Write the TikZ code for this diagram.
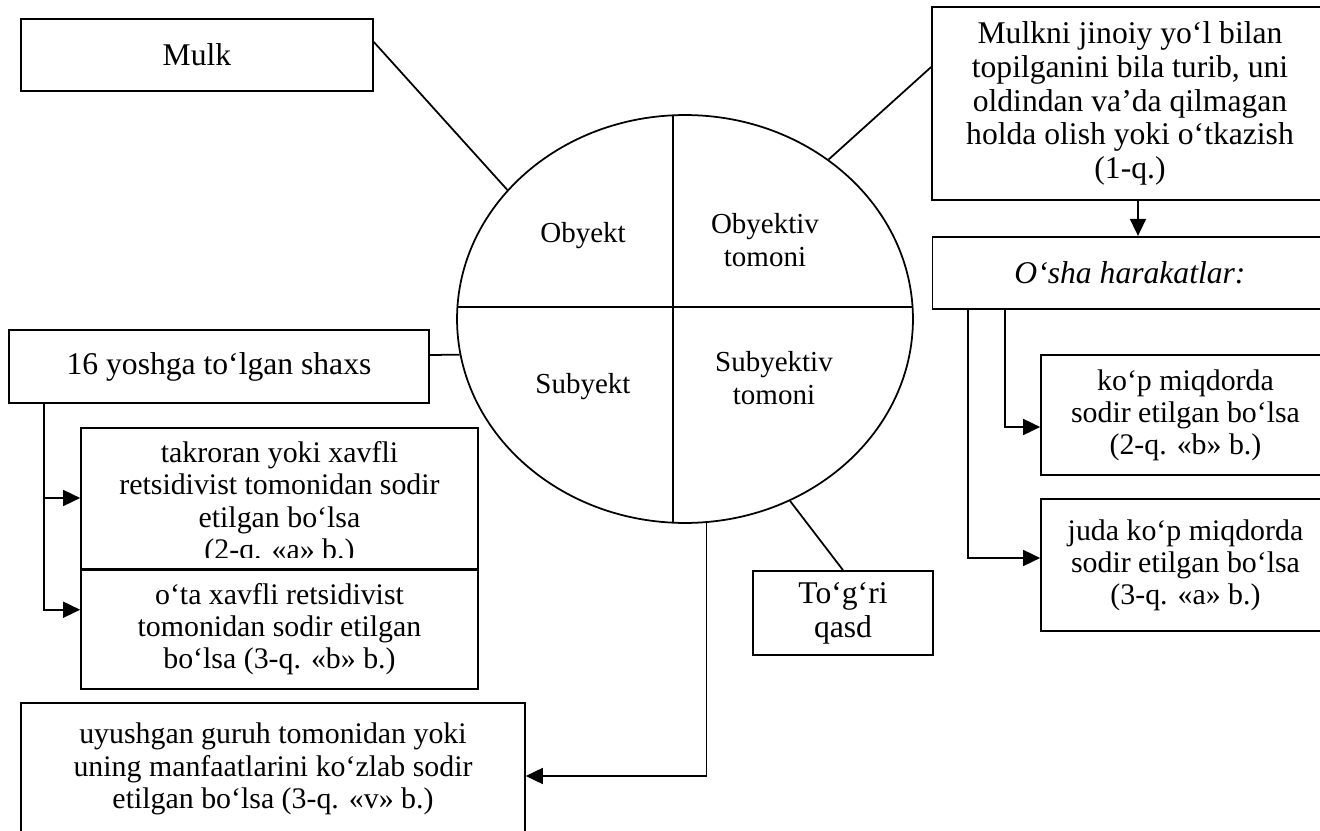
\documentclass[tikz,border=0pt]{standalone}
\usepackage{fontspec}
\setmainfont{Liberation Serif}
\usepackage{tikz}
\usetikzlibrary{shapes.geometric, arrows.meta, positioning, calc}

\begin{document}
\begin{tikzpicture}[
    x=0.02cm, y=-0.02cm,
    box/.style={rectangle, draw, line width=1pt, fill=white, align=center, inner sep=0pt, font=\fontsize{17}{18.3}\selectfont},
    bigbox/.style={box, font=\fontsize{18}{19.2}\selectfont},
    part/.style={align=center, inner sep=0pt, font=\fontsize{16.5}{18.8}\selectfont},
    link/.style={line width=1pt},
    arrow/.style={-{Triangle[length=0.34cm, width=0.32cm]}, line width=1pt}
]
    \useasboundingbox (0,0) rectangle (1320,831);

    \node[ellipse, draw, line width=1pt, minimum width=9.12cm, minimum height=8.16cm, inner sep=0pt] (ell) at (685,319) {};
    \begin{scope}
        \clip (ell.center) ellipse [x radius=4.56cm, y radius=4.08cm];
        \draw[link] (673,100) -- (673,540);
        \draw[link] (440,307) -- (930,307);
    \end{scope}
    \node[part] (obyekt) at (583,236) {Obyekt};
    \node[part] (obtomon) at (765,240) {Obyektiv\\tomoni};
    \node[part] (subyekt) at (583,387) {Subyekt};
    \node[part] (subtomon) at (774,378) {Subyektiv\\tomoni};

    \node[bigbox, minimum width=7.04cm, minimum height=1.44cm] (mulk) at (197,55) {Mulk};
    \node[bigbox, minimum width=7.92cm, minimum height=3.86cm] (jinoiy) at (1130,103.5) {Mulkni jinoiy yo‘l bilan\\topilganini bila turib, uni\\oldindan va’da qilmagan\\holda olish yoki o‘tkazish\\(1-q.)};
    \node[bigbox, minimum width=7.9cm, minimum height=1.44cm, below=0.7cm of jinoiy] (osha) {\textit{O‘sha harakatlar:}};
    \node[box, minimum width=5.78cm, minimum height=2.4cm] (kop) at (1185.5,415) {ko‘p miqdorda\\sodir etilgan bo‘lsa\\(2-q. «b» b.)};
    \node[box, minimum width=5.78cm, minimum height=2.64cm] (juda) at (1185.5,565) {juda ko‘p miqdorda\\sodir etilgan bo‘lsa\\(3-q. «a» b.)};

    \node[bigbox, minimum width=8.4cm, minimum height=1.46cm] (yoshga) at (219,366.5) {16 yoshga to‘lgan shaxs};
    \node[box, minimum width=7.94cm, minimum height=2.8cm] (takroran) at (279.5,498) {\rule{0pt}{1.08em}takroran yoki xavfli\\retsidivist tomonidan sodir\\etilgan bo‘lsa\\(2-q. «a» b.)};
    \fill[white] ([shift={(0.03cm,0.02cm)}]takroran.south west) rectangle ([shift={(-0.03cm,0.22cm)}]takroran.south east);
    \node[box, minimum width=7.94cm, minimum height=2.38cm, below=0cm of takroran] (ota) {o‘ta xavfli retsidivist\\tomonidan sodir etilgan\\bo‘lsa (3-q. «b» b.)};
    \node[box, minimum width=10.08cm, minimum height=2.64cm] (uyush) at (273,769) {uyushgan guruh tomonidan yoki\\uning manfaatlarini ko‘zlab sodir\\etilgan bo‘lsa (3-q. «v» b.)};
    \node[bigbox, minimum width=3.6cm, minimum height=1.68cm] (togri) at (843,613) {To‘g‘ri\\qasd};

    \draw[link] ([yshift=0.26cm]mulk.east) -- (ell.144);
    \draw[link] (ell.48) -- ([yshift=0.73cm]jinoiy.west);
    \draw[link] ([yshift=0.23cm]yoshga.east) -- (ell.189);
    \draw[link] (ell.-60) -- (togri.north);
    \draw[arrow] ([xshift=0.16cm]jinoiy.south) -- ([xshift=0.16cm]osha.north);
    \draw[arrow] ([xshift=1.46cm]osha.south west) |- ([yshift=-0.24cm]kop.west);
    \draw[arrow] ([xshift=0.72cm]osha.south west) |- ([yshift=0.14cm]juda.west);
    \draw[arrow] ([xshift=0.72cm]yoshga.south west) |- (takroran.west);
    \draw[arrow] ([xshift=0.72cm]yoshga.south west) |- ([yshift=0.39cm]ota.west);
    \draw[arrow] (ell.-84) |- ([yshift=-0.14cm]uyush.east);

\end{tikzpicture}
\end{document}
